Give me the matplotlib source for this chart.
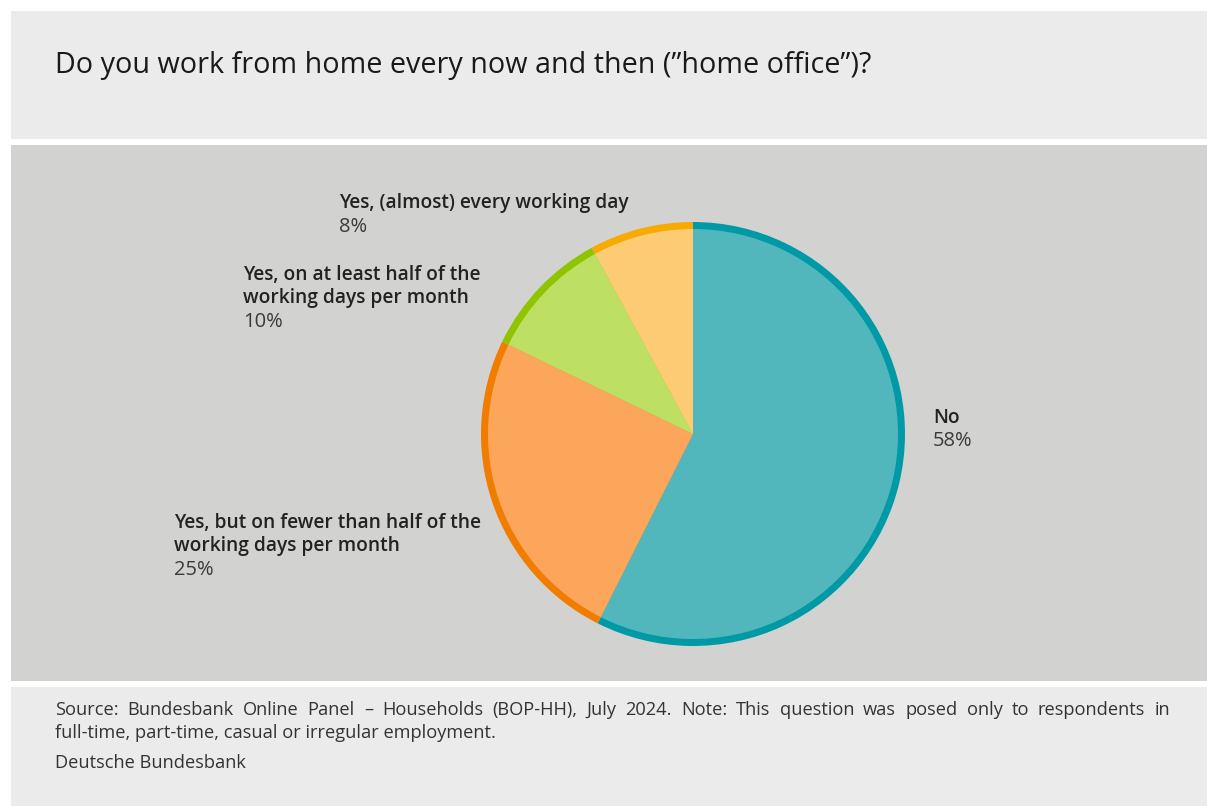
import matplotlib
matplotlib.use("Agg")
import matplotlib.pyplot as plt
from matplotlib.patches import Rectangle

# ---- data ----
categories = ["No",
              "Yes, but on fewer than half of the\nworking days per month",
              "Yes, on at least half of the\nworking days per month",
              "Yes, (almost) every working day"]
values = [58, 25, 10, 8]
fill_colors = ["#52b6bd", "#fba65a", "#bddf63", "#fdcb73"]
edge_colors = ["#009aa6", "#f07d00", "#8fc400", "#f7ab00"]

title = "Do you work from home every now and then (\u201dhome office\u201d)?"
source_lines = [
    "Source: Bundesbank Online Panel \u2013 Households (BOP-HH), July 2024. Note: This question was posed only to respondents in",
    "full-time, part-time, casual or irregular employment.",
]
credit = "Deutsche Bundesbank"

FONT = "Open Sans"
W, H = 1207, 806
fig = plt.figure(figsize=(W / 100, H / 100), dpi=100)
fig.patch.set_facecolor("white")

bg = fig.add_axes([0, 0, 1, 1])
bg.set_xlim(0, W)
bg.set_ylim(H, 0)
bg.axis("off")

# bands
bg.add_patch(Rectangle((11, 11), W - 11, 128, color="#ebebeb", lw=0))
bg.add_patch(Rectangle((11, 145), W - 11, 536, color="#d2d2d1", lw=0))
bg.add_patch(Rectangle((11, 687), W - 11, H - 687, color="#ebebeb", lw=0))

bg.text(55, 66, title, fontsize=20.7, family=FONT, color="#1a1a1a", va="center", ha="left")

# ---- pie ----
cx, cy, R = 693, 434, 212
pax = fig.add_axes([(cx - R) / W, (H - cy - R) / H, 2 * R / W, 2 * R / H])
pax.pie(values, colors=edge_colors, startangle=90, counterclock=False, radius=1.0,
        wedgeprops=dict(linewidth=0))
pax.pie(values, colors=fill_colors, startangle=90, counterclock=False, radius=0.967,
        wedgeprops=dict(linewidth=0))
pax.set_xlim(-1, 1)
pax.set_ylim(-1, 1)
pax.set_aspect("equal")
pax.axis("off")

# ---- labels ----
label_pos = [(933, 418), (174, 523), (243, 275), (339, 203)]
lh = 23.5
for cat, v, (x, y) in zip(categories, values, label_pos):
    lines = cat.split("\n")
    for i, ln in enumerate(lines):
        bg.text(x, y + i * lh, ln, fontsize=13.8, family=FONT, weight="semibold",
                color="#222222", va="center", ha="left")
    bg.text(x, y + len(lines) * lh, f"{v}%", fontsize=14.5, family=FONT,
            color="#3a3a3a", va="center", ha="left")

# ---- footer (justified first line) ----
fig.canvas.draw()
renderer = fig.canvas.get_renderer()
x0, x1 = 55, 1170
fs = 13.15
words = source_lines[0].split(" ")
tmp = [bg.text(0, 0, w, fontsize=fs, family=FONT) for w in words]
widths = []
for t in tmp:
    bb = t.get_window_extent(renderer)
    widths.append(bb.width)
    t.remove()
gap = (x1 - x0 - sum(widths)) / (len(words) - 1)
x = x0
for w, wd in zip(words, widths):
    bg.text(x, 710, w, fontsize=fs, family=FONT, color="#333333", va="center", ha="left")
    x += wd + gap
bg.text(x0, 733, source_lines[1], fontsize=fs, family=FONT, color="#333333", va="center", ha="left")
bg.text(x0, 763, credit, fontsize=fs, family=FONT, color="#333333", va="center", ha="left")

fig.savefig("out.png", dpi=100, facecolor="white")
